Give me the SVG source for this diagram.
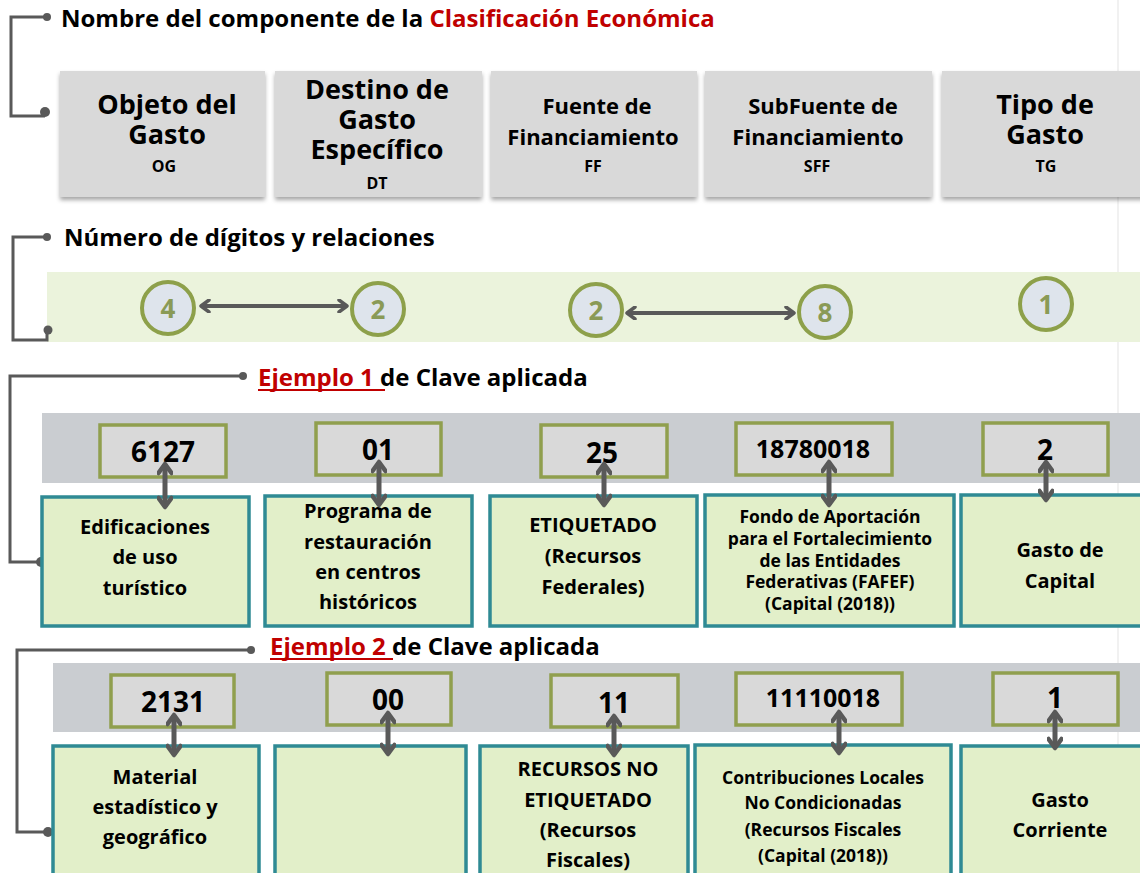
<svg xmlns="http://www.w3.org/2000/svg" width="1140" height="873" viewBox="0 0 1140 873">
<defs>
<style>
text{font-family:"Open Sans","Noto Sans","Liberation Sans",sans-serif;font-weight:bold;fill:#000;text-anchor:middle}
.title{text-anchor:start;font-size:24px}
.red{fill:#C00000}
.hdr{fill:#D9D9D9}
.big{font-size:27px}
.mid{font-size:22px}
.abbr{font-size:16px}
.circ{fill:#DEE4EC;stroke:#8DA04A;stroke-width:4}
.num{font-size:26px;fill:#8A9A56}
.code{fill:#D9D9D9;stroke:#909F4E;stroke-width:3.5}
.cnum{font-size:28px}
.cnum2{font-size:25px}
.desc{fill:#E2EFC9;stroke:#2F8A94;stroke-width:3.5}
.dt{font-size:20px}
.ds{font-size:17.5px}
.br{fill:none;stroke:#595959;stroke-width:3}
.dot{fill:#595959}
.arr{stroke:#595959;stroke-width:4;fill:none;marker-start:url(#ah);marker-end:url(#ah)}
.varr{stroke:#595959;stroke-width:5;fill:none;marker-start:url(#vh);marker-end:url(#vh)}
</style>
<marker id="ah" viewBox="0 0 12 14" refX="10" refY="7" markerWidth="12" markerHeight="14" markerUnits="userSpaceOnUse" orient="auto-start-reverse">
<path d="M2,1 L10,7 L2,13" fill="none" stroke="#595959" stroke-width="3.5" stroke-linejoin="round" stroke-linecap="round"/>
</marker>
<marker id="vh" viewBox="0 0 16 16" refX="12" refY="8" markerWidth="16" markerHeight="16" markerUnits="userSpaceOnUse" orient="auto-start-reverse">
<path d="M3,1.5 L12,8 L3,14.5" fill="none" stroke="#595959" stroke-width="4.5" stroke-linejoin="round" stroke-linecap="round"/>
</marker>
<filter id="sh" x="-5%" y="-5%" width="115%" height="120%">
<feDropShadow dx="0" dy="3" stdDeviation="2" flood-color="#000" flood-opacity="0.35"/>
</filter>
</defs>
<rect width="1140" height="873" fill="#fff"/>
<line x1="1118" y1="0" x2="1118" y2="873" stroke="#EDEDED" stroke-width="1.5"/>

<!-- bands -->
<rect x="47" y="272" width="1093" height="70" fill="#EBF3DC"/>
<rect x="42" y="413" width="1098" height="70" fill="#CACDD1"/>
<rect x="53" y="663" width="1087" height="69" fill="#CACDD1"/>

<!-- connectors / brackets -->
<g id="connectors">
<path class="br" d="M47,17 H11 V116 H45"/>
<circle class="dot" cx="47" cy="17" r="4"/>
<circle class="dot" cx="45" cy="112" r="5"/>
<path class="br" d="M47,237 H13 V340 H47 V331"/>
<circle class="dot" cx="47" cy="237" r="4"/>
<circle class="dot" cx="48" cy="330" r="4.5"/>
<path class="br" d="M242,376 H10 V562 H41"/>
<circle class="dot" cx="243" cy="376" r="4"/>
<circle class="dot" cx="41" cy="562" r="5"/>
<path class="br" d="M250,650 H17 V832 H48"/>
<circle class="dot" cx="251" cy="650" r="4"/>
<circle class="dot" cx="48" cy="832" r="5"/>
<line class="arr" x1="201" y1="306" x2="347" y2="306"/>
<line class="arr" x1="627" y1="313" x2="794" y2="313"/>
</g>

<!-- titles -->
<g id="title1"><text class="title" x="61" y="27">Nombre del componente de la <tspan class="red">Clasificación Económica</tspan></text></g>
<g id="title2"><text class="title" x="64" y="246">Número de dígitos y relaciones</text></g>
<g id="title3"><text class="title" x="258" y="386"><tspan class="red">Ejemplo 1 </tspan>de Clave aplicada</text>
<line x1="258" y1="390" x2="385" y2="390" stroke="#C00000" stroke-width="2"/></g>
<g id="title4"><text class="title" x="270" y="655"><tspan class="red">Ejemplo 2 </tspan>de Clave aplicada</text>
<line x1="270" y1="659" x2="393" y2="659" stroke="#C00000" stroke-width="2"/></g>

<!-- header boxes -->
<g id="og"><rect class="hdr" x="60" y="71" width="205" height="126" filter="url(#sh)"/>
<text class="big" x="167" y="114">Objeto del<tspan x="167" dy="30">Gasto</tspan></text><text class="abbr" x="164" y="172">OG</text></g>
<g id="dt"><rect class="hdr" x="275" y="71" width="207" height="126" filter="url(#sh)"/>
<text class="big" x="377" y="99">Destino de<tspan x="377" dy="30">Gasto</tspan><tspan x="377" dy="30">Específico</tspan></text><text class="abbr" x="377" y="189">DT</text></g>
<g id="ff"><rect class="hdr" x="491" y="71" width="206" height="126" filter="url(#sh)"/>
<text class="mid" x="597" y="114">Fuente de<tspan x="593" dy="31">Financiamiento</tspan></text><text class="abbr" x="593" y="172">FF</text></g>
<g id="sff"><rect class="hdr" x="705" y="71" width="227" height="126" filter="url(#sh)"/>
<text class="mid" x="823" y="114">SubFuente de<tspan x="818" dy="31">Financiamiento</tspan></text><text class="abbr" x="817" y="172">SFF</text></g>
<g id="tg"><rect class="hdr" x="942" y="71" width="205" height="126" filter="url(#sh)"/>
<text class="big" x="1045" y="114">Tipo de<tspan x="1045" dy="30">Gasto</tspan></text><text class="abbr" x="1046" y="172">TG</text></g>

<!-- digit circles -->
<g id="c-og"><circle class="circ" cx="168" cy="308" r="26"/><text class="num" x="168" y="318">4</text></g>
<g id="c-dt"><circle class="circ" cx="378" cy="309" r="26"/><text class="num" x="378" y="319">2</text></g>
<g id="c-ff"><circle class="circ" cx="596" cy="310" r="26"/><text class="num" x="596" y="320">2</text></g>
<g id="c-sff"><circle class="circ" cx="825" cy="312" r="26"/><text class="num" x="825" y="322">8</text></g>
<g id="c-tg"><circle class="circ" cx="1046" cy="304" r="26"/><text class="num" x="1046" y="314">1</text></g>

<!-- example 1 -->
<g id="e1-og"><rect class="code" x="100" y="425" width="126" height="52"/><text class="cnum" x="163" y="462">6127</text>
<rect class="desc" x="42" y="497" width="207" height="129"/>
<text class="dt" x="145" y="534">Edificaciones<tspan x="145" dy="30">de uso</tspan><tspan x="145" dy="31">turístico</tspan></text></g>
<g id="e1-dt"><rect class="code" x="316" y="423" width="125" height="52"/><text class="cnum" x="378" y="460">01</text>
<rect class="desc" x="265" y="496" width="207" height="130"/>
<text class="dt" x="368" y="518">Programa de<tspan x="368" dy="31">restauración</tspan><tspan x="368" dy="30">en centros</tspan><tspan x="368" dy="30">históricos</tspan></text></g>
<g id="e1-ff"><rect class="code" x="541" y="425" width="126" height="52"/><text class="cnum" x="602" y="463">25</text>
<rect class="desc" x="490" y="496" width="207" height="130"/>
<text class="dt" x="593" y="532">ETIQUETADO<tspan x="593" dy="31">(Recursos</tspan><tspan x="593" dy="31">Federales)</tspan></text></g>
<g id="e1-sff"><rect class="code" x="736" y="423" width="156" height="52"/><text class="cnum2" x="813" y="458">18780018</text>
<rect class="desc" x="705" y="495" width="249" height="131"/>
<text class="ds" x="830" y="523">Fondo de Aportación<tspan x="830" dy="22">para el Fortalecimiento</tspan><tspan x="830" dy="21.5">de las Entidades</tspan><tspan x="830" dy="21.5">Federativas (FAFEF)</tspan><tspan x="830" dy="22">(Capital (2018))</tspan></text></g>
<g id="e1-tg"><rect class="code" x="983" y="423" width="125" height="52"/><text class="cnum" x="1045" y="460">2</text>
<rect class="desc" x="961" y="495" width="190" height="131"/>
<text class="dt" x="1060" y="557">Gasto de<tspan x="1060" dy="31">Capital</tspan></text></g>

<!-- example 2 -->
<g id="e2-og"><rect class="code" x="111" y="675" width="123" height="52"/><text class="cnum" x="173" y="712">2131</text>
<rect class="desc" x="53" y="746" width="206" height="135"/>
<text class="dt" x="155" y="784">Material<tspan x="155" dy="30">estadístico y</tspan><tspan x="155" dy="30">geográfico</tspan></text></g>
<g id="e2-dt"><rect class="code" x="327" y="673" width="124" height="52"/><text class="cnum" x="388" y="710">00</text>
<rect class="desc" x="275" y="746" width="191" height="135"/></g>
<g id="e2-ff"><rect class="code" x="551" y="675" width="127" height="52"/><text class="cnum" x="614" y="713">11</text>
<rect class="desc" x="480" y="746" width="208" height="135"/>
<text class="dt" x="588" y="776">RECURSOS NO<tspan x="588" dy="31">ETIQUETADO</tspan><tspan x="588" dy="30">(Recursos</tspan><tspan x="588" dy="30">Fiscales)</tspan></text></g>
<g id="e2-sff"><rect class="code" x="736" y="673" width="166" height="52"/><text class="cnum2" x="823" y="707">11110018</text>
<rect class="desc" x="695" y="745" width="256" height="136"/>
<text class="ds" x="823" y="784">Contribuciones Locales<tspan x="823" dy="25">No Condicionadas</tspan><tspan x="823" dy="27">(Recursos Fiscales</tspan><tspan x="823" dy="26">(Capital (2018))</tspan></text></g>
<g id="e2-tg"><rect class="code" x="993" y="673" width="125" height="52"/><text class="cnum" x="1055" y="708">1</text>
<rect class="desc" x="961" y="746" width="190" height="135"/>
<text class="dt" x="1060" y="807">Gasto<tspan x="1060" dy="30">Corriente</tspan></text></g>

<!-- vertical arrows -->
<g id="varrows">
<line class="varr" x1="165" y1="464" x2="165" y2="507"/>
<line class="varr" x1="379" y1="462" x2="379" y2="505"/>
<line class="varr" x1="604" y1="464" x2="604" y2="505"/>
<line class="varr" x1="829" y1="462" x2="829" y2="505"/>
<line class="varr" x1="1046" y1="462" x2="1046" y2="500"/>
<line class="varr" x1="174" y1="715" x2="174" y2="755"/>
<line class="varr" x1="388" y1="713" x2="388" y2="754"/>
<line class="varr" x1="614" y1="716" x2="614" y2="755"/>
<line class="varr" x1="839" y1="712" x2="839" y2="753"/>
<line class="varr" x1="1055" y1="712" x2="1055" y2="748"/>
</g>
</svg>
